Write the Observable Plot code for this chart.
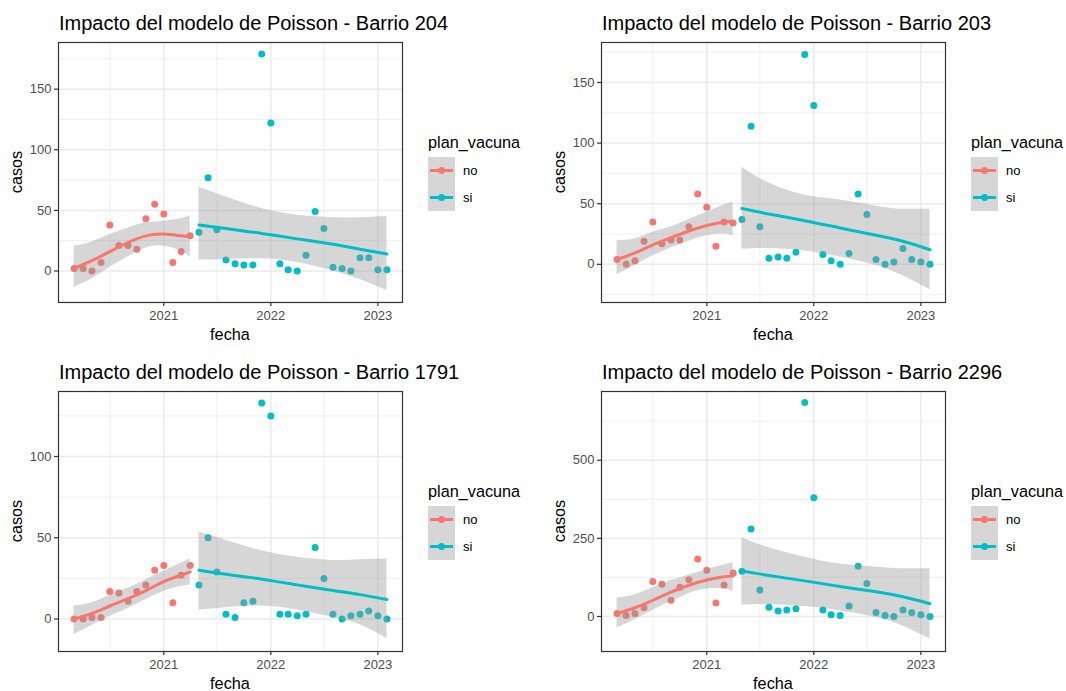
<!DOCTYPE html>
<html>
<head>
<meta charset="utf-8">
<script src="https://cdn.jsdelivr.net/npm/d3@7"></script>
<script src="https://cdn.jsdelivr.net/npm/@observablehq/plot@0.6"></script>
<style>
  body { margin: 0; background: #fff; }
  #chart { position: relative; width: 1066px; height: 691px; overflow: hidden; background: #fff;
           font-family: "Liberation Sans", Arial, sans-serif; }
  #chart > .panel { position: absolute; }
  #chart > svg.overlay { position: absolute; left: 0; top: 0; pointer-events: none; }
</style>
</head>
<body>
<div id="chart"></div>
<script>
// Monthly observations, first of each month
const meses = [
  "2020-03","2020-04","2020-05","2020-06","2020-07","2020-08","2020-09","2020-10","2020-11","2020-12",
  "2021-01","2021-02","2021-03","2021-04","2021-05","2021-06","2021-07","2021-08","2021-09","2021-10",
  "2021-11","2021-12","2022-01","2022-02","2022-03","2022-04","2022-05","2022-06","2022-07","2022-08",
  "2022-09","2022-10","2022-11","2022-12","2023-01","2023-02"
];
const inicioPlan = "2021-05"; // first month with the vaccination plan
const grupos = ["no", "si"];
const coloresGrupo = ["#F8766D", "#00BFC4"];

const barrios = ["204", "203", "1791", "2296"];

// Cases per month, one array per neighbourhood
const casos204  = [2,2,0,7,38,21,21,18,43,55,47,7,16,29, 32,77,34,9,6,5,5,179,122,6,1,0,13,49,35,3,2,0,11,11,1,1];
const casos203  = [4,0,3,19,35,17,20,20,31,58,47,15,35,34, 37,114,31,5,6,5,10,173,131,8,3,0,9,58,41,4,0,2,13,4,2,0];
const casos1791 = [0,0,1,1,17,16,11,17,21,30,33,10,27,33, 21,50,29,3,1,10,11,133,125,3,3,2,3,44,25,3,0,2,3,5,2,0];
const casos2296 = [10,3,10,28,112,103,52,94,118,184,148,43,101,139, 145,280,85,30,18,21,25,685,380,21,6,3,34,161,106,13,3,0,21,13,6,0];

// Fitted trend with its confidence band, sampled at these months
const mesesAjusteNo = ["2020-03","2020-05","2020-07","2020-09","2020-11","2021-01","2021-03","2021-04"];
const mesesAjusteSi = ["2021-05","2021-08","2021-12","2022-04","2022-08","2022-11","2023-02"];

const ajusteNo204 = [2, 8.5, 16, 23.5, 29, 30.5, 29, 28.5];
const bajoNo204   = [-13.5, -6.5, 3, 11.5, 19, 20.5, 16.5, 11.5];
const altoNo204   = [20.5, 24, 30, 35.5, 39.5, 41, 43, 45.5];
const ajusteSi204 = [38, 35, 31, 26.5, 22, 18, 14];
const bajoSi204   = [9, 9.5, 10, 7, 0, -7, -16];
const altoSi204   = [69, 61, 51.5, 46, 44, 44, 45];

const ajusteNo203 = [4, 9.5, 16, 22, 27.5, 32, 35, 35.5];
const bajoNo203   = [-8.5, -1, 7, 13.5, 19, 23.5, 25, 23.5];
const altoNo203   = [19.5, 21, 26.5, 31, 37, 43, 49, 51];
const ajusteSi203 = [46, 41.5, 36, 30, 24, 19, 12];
const bajoSi203   = [12.5, 13, 11, 6, -1, -9.5, -21];
const altoSi203   = [80, 67, 57, 53, 48, 45.5, 45.5];

const ajusteNo1791 = [0, 3.5, 8, 12.5, 17.5, 23, 27, 29];
const bajoNo1791   = [-9.5, -4, 1.5, 6.5, 12, 17, 20, 21];
const altoNo1791   = [8, 10, 14.5, 19, 24, 29.5, 34.5, 37];
const ajusteSi1791 = [30, 27.5, 24.5, 21, 17.5, 15, 12];
const bajoSi1791   = [5.5, 7, 8, 5.5, 1, -3.5, -12];
const altoSi1791   = [53.5, 48.5, 42, 38, 36, 36.5, 37];

const ajusteNo2296 = [9, 28, 52, 78, 100, 117, 127, 130];
const bajoNo2296   = [-37, -10, 20, 48, 73, 88, 88, 80];
const altoNo2296   = [59, 70, 92, 115, 133, 150, 165, 172];
const ajusteSi2296 = [146, 131, 114, 96, 79, 63, 41];
const bajoSi2296   = [36, 38, 32, 18, -3, -30, -72];
const altoSi2296   = [252, 220, 190, 168, 158, 153, 153];

// Axis ticks
const ticksX = ["2021-01", "2022-01", "2023-01"];
const ticksXMenores = ["2020-07", "2021-07", "2022-07"];
const ticksY204 = [0, 50, 100, 150],  menoresY204 = [-25, 25, 75, 125, 175];
const ticksY203 = [0, 50, 100, 150],  menoresY203 = [-25, 25, 75, 125, 175];
const ticksY1791 = [0, 50, 100],      menoresY1791 = [25, 75, 125];
const ticksY2296 = [0, 250, 500],     menoresY2296 = [125, 375, 625];
const dominioY204 = [-26, 188.5];
const dominioY203 = [-31.5, 183];
const dominioY1791 = [-20, 140];
const dominioY2296 = [-112, 720];
const dominioX = ["2020-01-08", "2023-03-26"];

const mes = d3.utcParse("%Y-%m");
const dia = d3.utcParse("%Y-%m-%d");
const FONT = "'Liberation Sans', Arial, sans-serif";

const paneles = [
  {barrio: barrios[0], casos: casos204, fitNo: ajusteNo204, loNo: bajoNo204, hiNo: altoNo204,
   fitSi: ajusteSi204, loSi: bajoSi204, hiSi: altoSi204, ticks: ticksY204, menores: menoresY204, dom: dominioY204, ox: 0, oy: 0},
  {barrio: barrios[1], casos: casos203, fitNo: ajusteNo203, loNo: bajoNo203, hiNo: altoNo203,
   fitSi: ajusteSi203, loSi: bajoSi203, hiSi: altoSi203, ticks: ticksY203, menores: menoresY203, dom: dominioY203, ox: 543, oy: 0},
  {barrio: barrios[2], casos: casos1791, fitNo: ajusteNo1791, loNo: bajoNo1791, hiNo: altoNo1791,
   fitSi: ajusteSi1791, loSi: bajoSi1791, hiSi: altoSi1791, ticks: ticksY1791, menores: menoresY1791, dom: dominioY1791, ox: 0, oy: 349},
  {barrio: barrios[3], casos: casos2296, fitNo: ajusteNo2296, loNo: bajoNo2296, hiNo: altoNo2296,
   fitSi: ajusteSi2296, loSi: bajoSi2296, hiSi: altoSi2296, ticks: ticksY2296, menores: menoresY2296, dom: dominioY2296, ox: 543, oy: 349}
];

const chart = document.getElementById("chart");

function dibujarPanel(p) {
  const puntos = meses.map((m, i) => ({fecha: mes(m), casos: p.casos[i], plan: m < inicioPlan ? "no" : "si"}));
  const bandaNo = mesesAjusteNo.map((m, i) => ({fecha: mes(m), fit: p.fitNo[i], lo: p.loNo[i], hi: p.hiNo[i]}));
  const bandaSi = mesesAjusteSi.map((m, i) => ({fecha: mes(m), fit: p.fitSi[i], lo: p.loSi[i], hi: p.hiSi[i]}));
  const gridStyle = {stroke: "#ebebeb", strokeOpacity: 1};
  const svg = Plot.plot({
    width: 410, height: 312,
    marginLeft: 58, marginRight: 8, marginTop: 6, marginBottom: 46,
    x: {type: "utc", domain: dominioX.map(dia)},
    y: {domain: p.dom},
    color: {domain: grupos, range: coloresGrupo},
    style: {fontFamily: FONT, fontSize: "13px", background: "transparent", overflow: "visible"},
    marks: [
      Plot.gridX(ticksXMenores.map(mes), {...gridStyle, strokeWidth: 0.8}),
      Plot.gridY(p.menores.filter(v => v > p.dom[0] && v < p.dom[1]), {...gridStyle, strokeWidth: 0.8}),
      Plot.gridX(ticksX.map(mes), {...gridStyle, strokeWidth: 1.5}),
      Plot.gridY(p.ticks, {...gridStyle, strokeWidth: 1.5}),
      Plot.dot(puntos, {x: "fecha", y: "casos", fill: "plan", r: 3.5}),
      Plot.areaY(bandaNo, {x: "fecha", y1: "lo", y2: "hi", fill: "#999999", fillOpacity: 0.4, curve: "natural"}),
      Plot.areaY(bandaSi, {x: "fecha", y1: "lo", y2: "hi", fill: "#999999", fillOpacity: 0.4, curve: "natural"}),
      Plot.line(bandaNo, {x: "fecha", y: "fit", stroke: coloresGrupo[0], strokeWidth: 3, curve: "natural"}),
      Plot.line(bandaSi, {x: "fecha", y: "fit", stroke: coloresGrupo[1], strokeWidth: 3, curve: "natural"}),
      Plot.axisX(ticksX.map(mes), {tickSize: 4, tickPadding: 4, stroke: "#333333", strokeWidth: 1.2,
        fill: "#4d4d4d", tickFormat: d3.utcFormat("%Y"), label: null}),
      Plot.axisY(p.ticks, {tickSize: 4, tickPadding: 3, stroke: "#333333", strokeWidth: 1.2,
        fill: "#4d4d4d", label: null}),
      Plot.frame({stroke: "#333333", strokeWidth: 1.2})
    ]
  });
  svg.classList.add("panel");
  svg.style.left = p.ox + "px";
  svg.style.top = (p.oy + 36) + "px";
  chart.appendChild(svg);
}

paneles.forEach(dibujarPanel);

// Titles, axis titles and legends
const overlay = d3.create("svg")
  .attr("class", "overlay")
  .attr("width", 1066).attr("height", 691)
  .style("font-family", FONT);

paneles.forEach(p => {
  const g = overlay.append("g").attr("transform", `translate(${p.ox},${p.oy})`);
  g.append("text").attr("x", 59).attr("y", 29.5)
    .attr("font-size", 20).attr("fill", "#000")
    .text(`Impacto del modelo de Poisson - Barrio ${p.barrio}`);
  g.append("text").attr("x", 230).attr("y", 339.5)
    .attr("text-anchor", "middle").attr("font-size", 16.25).attr("fill", "#000")
    .text("fecha");
  g.append("text").attr("transform", "translate(22,172) rotate(-90)")
    .attr("text-anchor", "middle").attr("font-size", 16.25).attr("fill", "#000")
    .text("casos");
  const ley = g.append("g").attr("transform", "translate(428,0)");
  ley.append("text").attr("x", 0).attr("y", 148).attr("font-size", 16.25).attr("fill", "#000")
    .text("plan_vacuna");
  grupos.forEach((grp, k) => {
    const y0 = 157 + 27 * k;
    ley.append("rect").attr("x", 0).attr("y", y0).attr("width", 27).attr("height", 27).attr("fill", "#d6d6d6");
    ley.append("line").attr("x1", 2).attr("x2", 25).attr("y1", y0 + 13.5).attr("y2", y0 + 13.5)
      .attr("stroke", coloresGrupo[k]).attr("stroke-width", 3);
    ley.append("circle").attr("cx", 13.5).attr("cy", y0 + 13.5).attr("r", 3.5).attr("fill", coloresGrupo[k]);
    ley.append("text").attr("x", 35).attr("y", y0 + 13.5).attr("dy", "0.35em")
      .attr("font-size", 13).attr("fill", "#000").text(grp);
  });
});

chart.appendChild(overlay.node());
</script>
</body>
</html>
